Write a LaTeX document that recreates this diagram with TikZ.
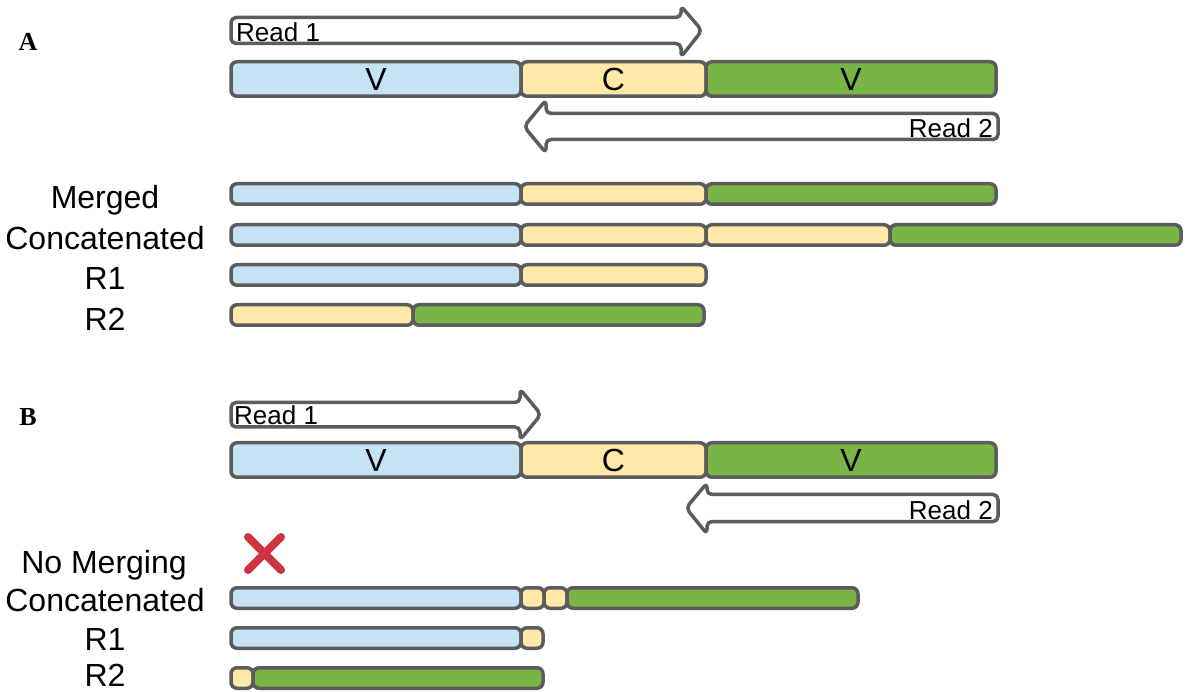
\documentclass[tikz,border=0pt]{standalone}
\usepackage{fontspec}
\setmainfont{Liberation Sans}
\newfontfamily\panelfont{Liberation Serif}
\usepackage{tikz}
\usetikzlibrary{positioning}
\definecolor{segblue}{RGB}{197,227,245}
\definecolor{segyellow}{RGB}{255,232,168}
\definecolor{seggreen}{RGB}{120,180,70}
\definecolor{edgegray}{RGB}{92,92,92}
\definecolor{crossred}{RGB}{205,52,64}

\begin{document}
\begin{tikzpicture}[
  x=1pt, y=-1pt,
  seg/.style={draw=edgegray, line width=3.5pt, rounded corners=6pt, inner sep=0pt, outer sep=0pt},
  bigseg/.style={seg, minimum height=34.5pt, font=\fontsize{32}{32}\selectfont},
  smallseg/.style={seg, minimum height=20.5pt},
  blue/.style={fill=segblue},
  yellow/.style={fill=segyellow},
  green/.style={fill=seggreen},
  readarrow/.style={draw=edgegray, line width=3.5pt, rounded corners=5pt, fill=white},
  readlabel/.style={font=\fontsize{26}{26}\selectfont, inner sep=0pt},
  rowlabel/.style={font=\fontsize{32}{32}\selectfont, anchor=base, inner sep=0pt},
  panel/.style={font=\panelfont\bfseries\fontsize{26}{26}\selectfont, anchor=base, inner sep=0pt}
]
\useasboundingbox (0,0) rectangle (1192,692);

% ---- panel A ----
\node[panel] (pA) at (28,51) {A};

\draw[readarrow] (231,17.5) -- (681,17.5) -- (681,6) -- (702,30.5) -- (681,57) -- (681,43.5) -- (231,43.5) -- cycle;
\node[readlabel, anchor=base west] (aread1) at (236,42) {Read 1};

\node[bigseg, blue, minimum width=290pt, anchor=west] (aV1) at (231,79) {V};
\node[bigseg, yellow, minimum width=185pt, right=0pt of aV1] (aC) {C};
\node[bigseg, green, minimum width=290pt, right=0pt of aC] (aV2) {V};

\draw[readarrow] (998,113.5) -- (546,113.5) -- (546,100) -- (524,126.5) -- (546,153) -- (546,139.5) -- (998,139.5) -- cycle;
\node[readlabel, anchor=base east] (aread2) at (993,138) {Read 2};

\node[rowlabel] (lmerged) at (105,209) {Merged};
\node[smallseg, blue, minimum width=290pt, anchor=west] (mg1) at (231,194) {};
\node[smallseg, yellow, minimum width=185pt, right=0pt of mg1] (mg2) {};
\node[smallseg, green, minimum width=290pt, right=0pt of mg2] (mg3) {};

\node[rowlabel] (lconcA) at (105,250) {Concatenated};
\node[smallseg, blue, minimum width=290pt, anchor=west] (ca1) at (231,235) {};
\node[smallseg, yellow, minimum width=185pt, right=0pt of ca1] (ca2) {};
\node[smallseg, yellow, minimum width=184pt, right=0pt of ca2] (ca3) {};
\node[smallseg, green, minimum width=291pt, right=0pt of ca3] (ca4) {};

\node[rowlabel] (lr1A) at (105,290) {R1};
\node[smallseg, blue, minimum width=290pt, anchor=west] (ra1) at (231,275) {};
\node[smallseg, yellow, minimum width=185pt, right=0pt of ra1] (ra2) {};

\node[rowlabel] (lr2A) at (105,331) {R2};
\node[smallseg, yellow, minimum width=182pt, anchor=west] (sa1) at (231,315) {};
\node[smallseg, green, minimum width=291pt, right=0pt of sa1] (sa2) {};

% ---- panel B ----
\node[panel] (pB) at (28,426) {B};

\draw[readarrow] (231,402.5) -- (520,402.5) -- (520,389) -- (541,414.5) -- (520,440) -- (520,427) -- (231,427) -- cycle;
\node[readlabel, anchor=base west] (bread1) at (234,425) {Read 1};

\node[bigseg, blue, minimum width=290pt, anchor=west] (bV1) at (231,460) {V};
\node[bigseg, yellow, minimum width=185pt, right=0pt of bV1] (bC) {C};
\node[bigseg, green, minimum width=290pt, right=0pt of bC] (bV2) {V};

\draw[readarrow] (998,494.5) -- (707,494.5) -- (707,483) -- (686,508) -- (707,534) -- (707,521.5) -- (998,521.5) -- cycle;
\node[readlabel, anchor=base east] (bread2) at (993,519) {Read 2};

\node[rowlabel] (lnomerge) at (104,573) {No Merging};
\draw[crossred, line width=8pt, line cap=round] (248,537) -- (281,570) (281,537) -- (248,570);

\node[rowlabel] (lconcB) at (105,611) {Concatenated};
\node[smallseg, blue, minimum width=290pt, anchor=west] (cb1) at (231,598) {};
\node[smallseg, yellow, minimum width=23pt, right=0pt of cb1] (cb2) {};
\node[smallseg, yellow, minimum width=23pt, right=0pt of cb2] (cb3) {};
\node[smallseg, green, minimum width=291pt, right=0pt of cb3] (cb4) {};

\node[rowlabel] (lr1B) at (105,650) {R1};
\node[smallseg, blue, minimum width=290pt, anchor=west] (rb1) at (231,638) {};
\node[smallseg, yellow, minimum width=22pt, right=0pt of rb1] (rb2) {};

\node[rowlabel] (lr2B) at (105,686) {R2};
\node[smallseg, yellow, minimum width=22pt, anchor=west] (sb1) at (231,678) {};
\node[smallseg, green, minimum width=290pt, right=0pt of sb1] (sb2) {};
\end{tikzpicture}
\end{document}
